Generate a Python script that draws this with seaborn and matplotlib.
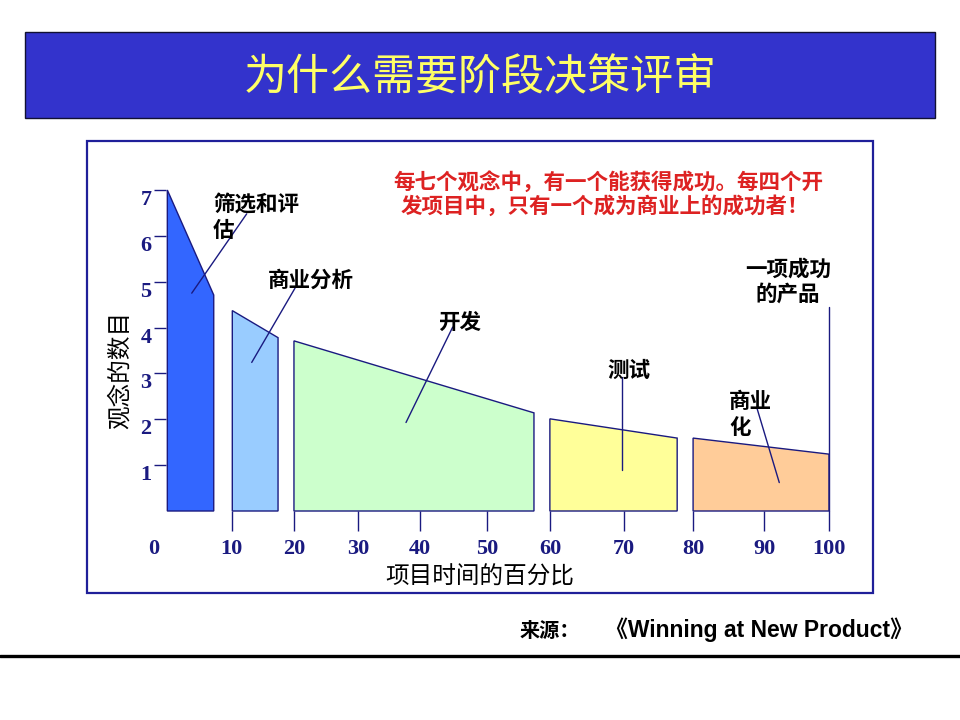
import matplotlib
matplotlib.use("Agg")
import matplotlib.pyplot as plt
import seaborn as sns
from matplotlib.patches import Rectangle
from matplotlib.lines import Line2D

# ---------------- data ----------------
stages = ["筛选和评估", "商业分析", "开发", "测试", "商业化"]
x_start = [0.2, 10.0, 19.3, 57.9, 79.5]
x_end = [7.2, 16.9, 55.5, 77.1, 100.0]
y_start = [7.0, 4.37, 3.71, 2.01, 1.59]
y_end = [4.71, 3.78, 2.14, 1.59, 1.24]
stage_colors = ["#3366ff", "#99ccff", "#ccffcc", "#ffff99", "#ffcc99"]

y_ticks = [1, 2, 3, 4, 5, 6, 7]
x_tick_pos = [-1.8, 9.9, 19.3, 29.0, 38.3, 48.4, 57.9, 69.1, 79.5, 90.2, 100.0]
x_tick_labels = ["0", "10", "20", "30", "40", "50", "60", "70", "80", "90", "100"]

# leader lines (from point inside shape to label), data units
leaders_x = [[3.88, 12.17], [12.93, 19.46], [36.2, 43.24], [68.8, 68.8], [89.1, 92.5], [100.0, 100.0]]
leaders_y = [[4.75, 6.48], [3.24, 4.86], [1.93, 4.01], [0.89, 2.93], [2.26, 0.62], [0.0, 4.45]]

title = "为什么需要阶段决策评审"
note_lines = ["每七个观念中，有一个能获得成功。每四个开", "发项目中，只有一个成为商业上的成功者！"]
source_head = "来源："
source_book = "《Winning at New Product》"

NAVY = "#1a1a80"

sns.set_theme(style="white")
plt.rcParams['font.family'] = ['Noto Sans CJK SC', 'DejaVu Sans']

W, H = 960, 720
fig = plt.figure(figsize=(9.6, 7.2), dpi=100)
fig.patch.set_facecolor("white")


def fx(px):
    return px / W


def fy(py):
    return 1 - py / H


# title banner
fig.patches.append(Rectangle((fx(25), fy(118)), (935 - 25) / W, (118 - 32) / H,
                             transform=fig.transFigure, facecolor="#3333cc",
                             edgecolor="#111133", lw=1.0, zorder=0))
fig.text(fx(480), fy(78), title, ha="center", va="center", fontsize=31,
         color="#ffff66")

# chart frame
fig.patches.append(Rectangle((fx(87), fy(593)), (873 - 87) / W, (593 - 141) / H,
                             transform=fig.transFigure, facecolor="none",
                             edgecolor="#1f1f99", lw=1.6, zorder=0))

# main axes: x from -1.8 (px 154) to 100 (px 829)
ax = fig.add_axes([fx(154), fy(511), (829 - 154) / W, (511 - 190) / H])
ax.patch.set_alpha(0)
sns.despine(ax=ax, left=True, bottom=True)
ax.spines["left"].set_position(("data", 0))
ax.grid(False)

for xs, xe, ys, ye, c in zip(x_start, x_end, y_start, y_end, stage_colors):
    ax.fill([xs, xe, xe, xs], [0, 0, ye, ys], facecolor=c, edgecolor=NAVY,
            lw=1.0, clip_on=False, zorder=2)

for lx, ly in zip(leaders_x, leaders_y):
    ax.plot(lx, ly, color=NAVY, lw=1.0, clip_on=False, zorder=3)

ax.set_yticks(y_ticks)
ax.set_yticklabels([str(v) for v in y_ticks], family="Liberation Serif",
                   fontweight="bold", fontsize=16, color=NAVY)
for lab in ax.get_yticklabels():
    lab.set_verticalalignment("top")
ax.set_xticks(x_tick_pos)
ax.set_xticklabels(x_tick_labels, family="Liberation Serif",
                   fontweight="bold", fontsize=16, color=NAVY)
ax.set_xlim(-1.81, 100)
ax.set_ylim(0, 7)
ax.tick_params(axis="y", left=True, length=8.6, width=1, color=NAVY, pad=2,
               direction="out")
ax.tick_params(axis="x", bottom=True, length=14.4, width=1, color=NAVY, pad=6,
               direction="out")
for t in ax.xaxis.get_major_ticks():
    t.tick1line.set_clip_on(False)
    t.label1.set_clip_on(False)
ax.xaxis.get_major_ticks()[0].tick1line.set_visible(False)

# annotations
lab_kw = dict(ha="left", va="center", fontsize=15.5, color="black",
              fontweight="bold")
fig.text(fx(213), fy(205), "筛选和评", **lab_kw)
fig.text(fx(213), fy(230), "估", **lab_kw)
fig.text(fx(268), fy(280), "商业分析", **lab_kw)
fig.text(fx(438), fy(322), "开发", **lab_kw)
fig.text(fx(607), fy(370), "测试", **lab_kw)
fig.text(fx(729), fy(401), "商业", **lab_kw)
fig.text(fx(729), fy(428), "化", **lab_kw)
fig.text(fx(745), fy(269), "一项成功", **lab_kw)
fig.text(fx(755), fy(294), "的产品", **lab_kw)

fig.text(fx(393), fy(183), note_lines[0], ha="left", va="center", fontsize=15.5,
         fontweight="bold", color="#dd2222")
fig.text(fx(401), fy(206), note_lines[1], ha="left", va="center", fontsize=15.5,
         fontweight="bold", color="#dd2222")

fig.text(fx(120), fy(370), "观念的数目", ha="center", va="center", rotation=90,
         fontsize=17, color="black")
fig.text(fx(480), fy(577), "项目时间的百分比", ha="center", va="center",
         fontsize=17, color="black")

# source & bottom rule
fig.text(fx(520), fy(630), source_head, ha="left", va="center", fontsize=14.5,
         fontweight="bold", color="black")
fig.text(fx(913), fy(630), source_book, ha="right", va="center", fontsize=16.5,
         fontweight="bold", color="black",
         family=["Liberation Sans", "Noto Sans CJK SC"])
fig.lines.append(Line2D([0, 1], [fy(656), fy(656)], transform=fig.transFigure,
                        color="black", lw=2.4))

fig.savefig("out.png", dpi=100)
